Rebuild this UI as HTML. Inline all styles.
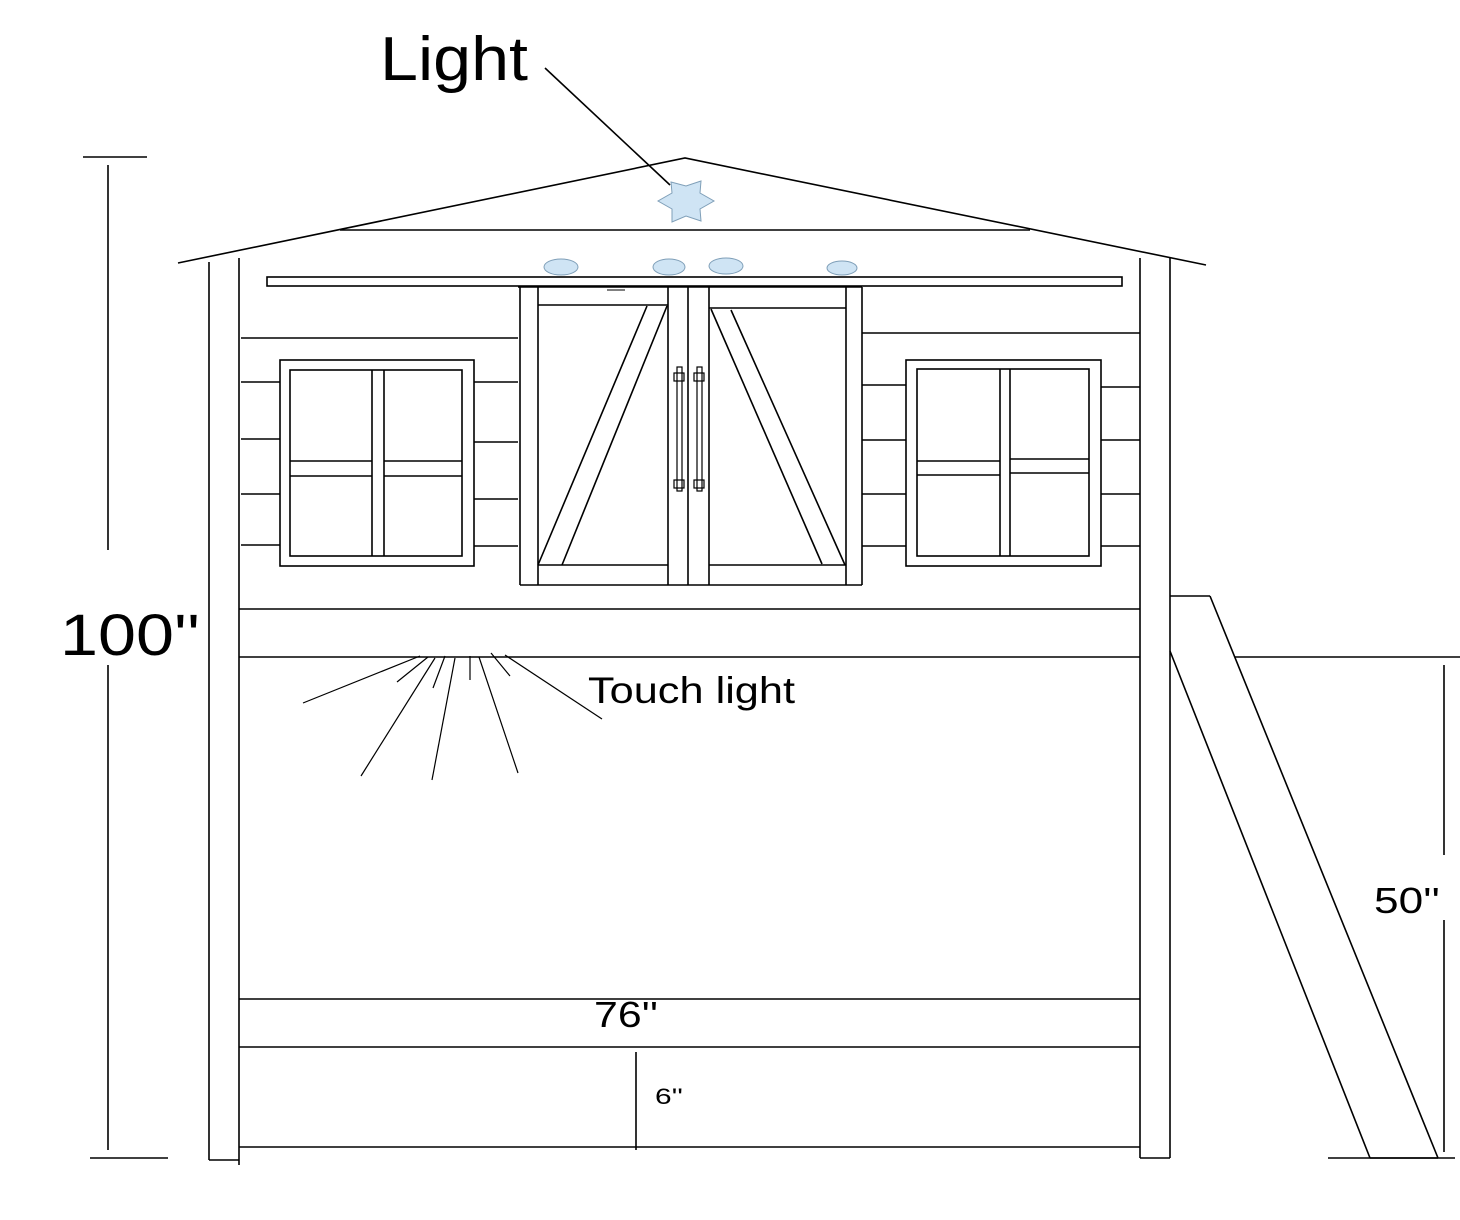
<!DOCTYPE html>
<html><head><style>
html,body{margin:0;padding:0;background:#fff;}
svg{display:block;}
text{font-family:"Liberation Sans",sans-serif;fill:#000;}
</style></head><body>
<svg width="1460" height="1220" viewBox="0 0 1460 1220" xmlns="http://www.w3.org/2000/svg">
<g stroke="#000" stroke-width="1.6" fill="none">
<polyline points="178,263 685,158 1206,265"/>
<line x1="340" y1="230" x2="1030" y2="230"/>
<line x1="209" y1="262" x2="209" y2="1160"/>
<line x1="239" y1="258" x2="239" y2="1165"/>
<line x1="1140" y1="258" x2="1140" y2="1158"/>
<line x1="1170" y1="258" x2="1170" y2="1158"/>
<line x1="209" y1="1160" x2="239" y2="1160"/>
<line x1="1140" y1="1158" x2="1170" y2="1158"/>
<rect x="267" y="277" width="855" height="9"/>
<line x1="239" y1="609" x2="1140" y2="609"/>
<line x1="239" y1="657" x2="1140" y2="657"/>
<line x1="239" y1="999" x2="1140" y2="999"/>
<line x1="239" y1="1047" x2="1140" y2="1047"/>
<line x1="239" y1="1147" x2="1140" y2="1147"/>
<line x1="241" y1="338" x2="518" y2="338"/>
<line x1="241" y1="382" x2="280" y2="382"/><line x1="474" y1="382" x2="518" y2="382"/>
<line x1="241" y1="439" x2="280" y2="439"/><line x1="474" y1="442" x2="518" y2="442"/>
<line x1="241" y1="494" x2="280" y2="494"/><line x1="474" y1="499" x2="518" y2="499"/>
<line x1="241" y1="545" x2="280" y2="545"/><line x1="474" y1="546" x2="518" y2="546"/>
<line x1="862" y1="333" x2="1140" y2="333"/>
<line x1="862" y1="385" x2="906" y2="385"/><line x1="1101" y1="387" x2="1140" y2="387"/>
<line x1="862" y1="440" x2="906" y2="440"/><line x1="1101" y1="440" x2="1140" y2="440"/>
<line x1="862" y1="494" x2="906" y2="494"/><line x1="1101" y1="494" x2="1140" y2="494"/>
<line x1="862" y1="546" x2="906" y2="546"/><line x1="1101" y1="546" x2="1140" y2="546"/>
<rect x="280" y="360" width="194" height="206"/>
<rect x="290" y="370" width="172" height="186"/>
<line x1="372" y1="370" x2="372" y2="556"/><line x1="384" y1="370" x2="384" y2="556"/>
<line x1="290" y1="461" x2="372" y2="461"/><line x1="290" y1="476" x2="372" y2="476"/>
<line x1="384" y1="461" x2="462" y2="461"/><line x1="384" y1="476" x2="462" y2="476"/>
<rect x="906" y="360" width="195" height="206"/>
<rect x="917" y="369" width="172" height="187"/>
<line x1="1000" y1="369" x2="1000" y2="556"/><line x1="1010" y1="369" x2="1010" y2="556"/>
<line x1="917" y1="461" x2="1000" y2="461"/><line x1="917" y1="475" x2="1000" y2="475"/>
<line x1="1010" y1="459" x2="1089" y2="459"/><line x1="1010" y1="473" x2="1089" y2="473"/>
<line x1="518" y1="287" x2="862" y2="287"/>
<line x1="520" y1="287" x2="520" y2="585"/>
<line x1="538" y1="287" x2="538" y2="585"/>
<line x1="668" y1="287" x2="668" y2="585"/>
<line x1="688" y1="287" x2="688" y2="585"/>
<line x1="709" y1="287" x2="709" y2="585"/>
<line x1="846" y1="287" x2="846" y2="585"/>
<line x1="862" y1="287" x2="862" y2="585"/>
<line x1="520" y1="585" x2="862" y2="585"/>
<line x1="538" y1="305" x2="668" y2="305"/>
<line x1="709" y1="308" x2="846" y2="308"/>
<line x1="538" y1="565" x2="668" y2="565"/>
<line x1="709" y1="565" x2="846" y2="565"/>
<line x1="538" y1="565" x2="647" y2="306"/>
<line x1="562" y1="565" x2="667" y2="306"/>
<line x1="711" y1="309" x2="822" y2="564"/>
<line x1="731" y1="310" x2="845" y2="565"/>
<line x1="607" y1="290" x2="625" y2="290" stroke-width="1"/>
<rect x="677" y="367" width="5" height="124" stroke-width="1.2"/>
<rect x="674" y="373" width="10" height="8" stroke-width="1.2"/>
<rect x="674" y="480" width="10" height="8" stroke-width="1.2"/>
<rect x="697" y="367" width="5" height="124" stroke-width="1.2"/>
<rect x="694" y="373" width="10" height="8" stroke-width="1.2"/>
<rect x="694" y="480" width="10" height="8" stroke-width="1.2"/>
<line x1="1170" y1="596" x2="1210" y2="596"/>
<line x1="1210" y1="596" x2="1438" y2="1158"/>
<line x1="1170" y1="651" x2="1370" y2="1158"/>
<line x1="1370" y1="1158" x2="1438" y2="1158"/>
<line x1="1235" y1="657" x2="1460" y2="657"/>
<line x1="1444" y1="665" x2="1444" y2="855"/>
<line x1="1444" y1="920" x2="1444" y2="1152"/>
<line x1="1328" y1="1158" x2="1455" y2="1158"/>
<line x1="83" y1="157" x2="147" y2="157"/>
<line x1="108" y1="165" x2="108" y2="550"/>
<line x1="108" y1="665" x2="108" y2="1150"/>
<line x1="90" y1="1158" x2="168" y2="1158"/>
<line x1="636" y1="1052" x2="636" y2="1150"/>
<line x1="545" y1="68" x2="670" y2="185"/>
<g stroke-width="1.2">
<line x1="420" y1="656" x2="303" y2="703"/>
<line x1="428" y1="657" x2="397" y2="682"/>
<line x1="435" y1="658" x2="361" y2="776"/>
<line x1="445" y1="656" x2="433" y2="688"/>
<line x1="455" y1="658" x2="432" y2="780"/>
<line x1="470" y1="656" x2="470" y2="680"/>
<line x1="479" y1="657" x2="518" y2="773"/>
<line x1="491" y1="653" x2="510" y2="676"/>
<line x1="505" y1="655" x2="602" y2="719"/>
</g>
</g>
<g fill="#cfe4f4" stroke="#7f9fb8" stroke-width="1">
<polygon points="671,182 686,186 701,181 700,193 714,201 700,209 701,221 686,216 672,222 672,209 658,201 672,193"/>
<ellipse cx="561" cy="267" rx="17" ry="8"/>
<ellipse cx="669" cy="267" rx="16" ry="8"/>
<ellipse cx="726" cy="266" rx="17" ry="8"/>
<ellipse cx="842" cy="268" rx="15" ry="7"/>
</g>
<text x="380" y="80" font-size="62" textLength="148" lengthAdjust="spacingAndGlyphs">Light</text>
<text x="60" y="655" font-size="58" textLength="140" lengthAdjust="spacingAndGlyphs">100''</text>
<text x="588" y="703" font-size="37" textLength="207" lengthAdjust="spacingAndGlyphs">Touch light</text>
<text x="594" y="1027" font-size="36" textLength="64" lengthAdjust="spacingAndGlyphs">76''</text>
<text x="655" y="1104" font-size="22" textLength="28" lengthAdjust="spacingAndGlyphs">6''</text>
<text x="1374" y="913" font-size="36" textLength="66" lengthAdjust="spacingAndGlyphs">50''</text>
</svg>
</body></html>
